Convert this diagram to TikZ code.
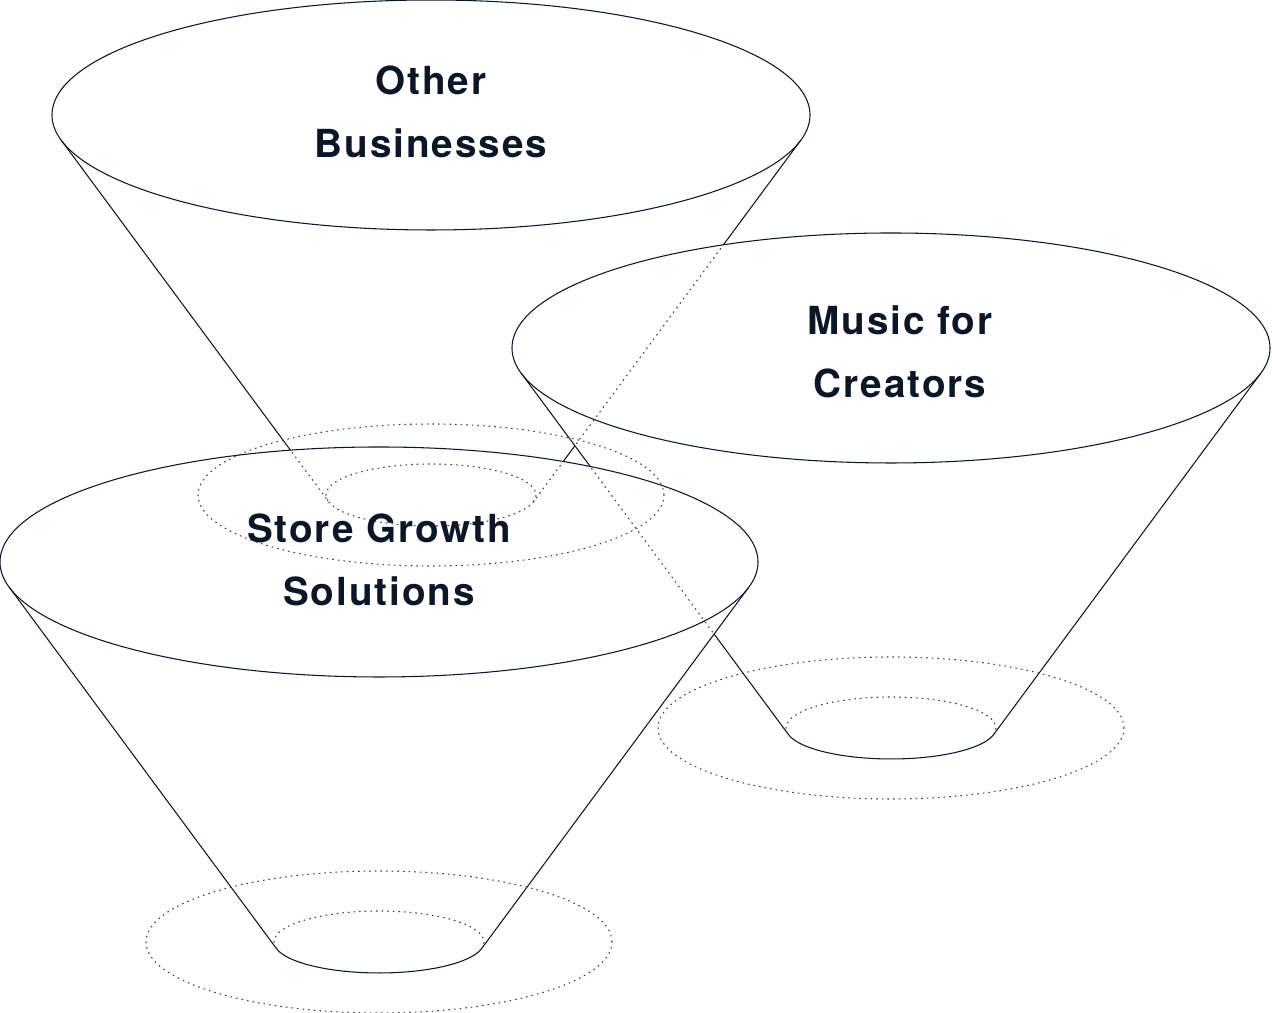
\documentclass[tikz,border=0pt]{standalone}
\usepackage{fontspec}
\usepackage{xcolor}
\usepackage{tikz}
\setsansfont{TeX Gyre Heros}[LetterSpace=5]
\definecolor{ink}{HTML}{0B1626}
\definecolor{dotc}{HTML}{3A414C}
% #1,#2 = centre of the top rim
\newcommand{\funnelsil}[2]{(#1-369.7,#2-25.3) arc[start angle=192.7, end angle=-12.7, x radius=379, y radius=115] -- (#1+102.4,#2-386.8) arc[start angle=-12.7, end angle=-167.3, x radius=105, y radius=31] -- cycle}
\newcommand{\funnelbody}[2]{(#1-369.7,#2-25.3) -- (#1-102.4,#2-386.8) arc[start angle=192.7, end angle=347.3, x radius=105, y radius=31] -- (#1+369.7,#2-25.3)}
\newcommand{\funnelback}[2]{(#1+102.4,#2-386.8) arc[start angle=-12.7, end angle=192.7, x radius=105, y radius=31]}

\begin{document}
\begin{tikzpicture}[
  x=0.02cm, y=0.02cm,
  rim/.style={draw=ink, line width=0.6pt},
  hid/.style={draw=dotc, line width=0.6pt, dash pattern=on 0.9pt off 2.3pt},
  funnellabel/.style={text=ink, align=center, font=\sffamily\bfseries\fontsize{22}{36}\selectfont},
]
\useasboundingbox (0,0) rectangle (1272,1013);

% ---------------- funnels, back to front ----------------
\foreach \cx/\cy in {431/898, 891/665, 379/451} {
  \fill[white] \funnelsil{\cx}{\cy};
  \draw[rim] (\cx,\cy) ellipse[x radius=379, y radius=115];
  \draw[rim] \funnelbody{\cx}{\cy};
}

% ---------------- edges hidden behind the front funnels ----------------
\begin{scope}
  \clip \funnelsil{891}{665};
  \draw[hid] \funnelbody{431}{898};
\end{scope}
\begin{scope}
  \clip \funnelsil{379}{451};
  \draw[hid] \funnelbody{431}{898};
  \draw[hid] \funnelbody{891}{665};
\end{scope}

% back of the bottom rims, and floor rings
\foreach \cx/\cy in {431/898, 891/665, 379/451} {
  \draw[hid] \funnelback{\cx}{\cy};
  \draw[hid] (\cx,\cy-380) ellipse[x radius=233, y radius=71];
}

% ---------------- labels ----------------
\node[funnellabel] (other) at (431,901.5) {Other\\Businesses};
\node[funnellabel] (music) at (900,661) {Music for\\Creators};
\node[funnellabel] (store) at (379,453) {Store Growth\\Solutions};

\end{tikzpicture}
\end{document}
